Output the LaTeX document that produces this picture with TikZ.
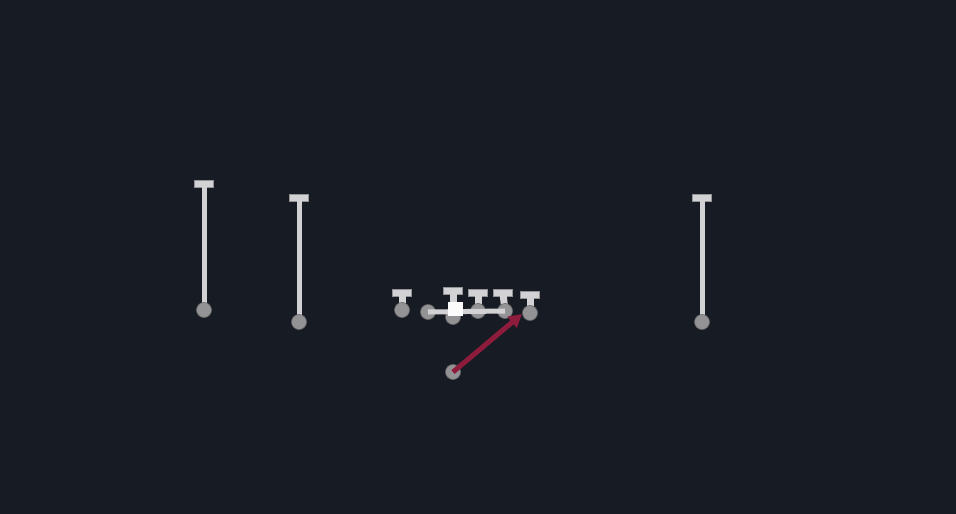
\documentclass[tikz,border=0pt]{standalone}
\usetikzlibrary{arrows.meta}
\definecolor{bg}{HTML}{171B23}
\definecolor{stem}{HTML}{D2D2D5}
\definecolor{dotc}{HTML}{939396}
\definecolor{routered}{HTML}{8C1B3C}
\tikzset{
  player/.style={circle, fill=dotc, draw=dotc!70!black, line width=0.6pt, minimum size=15pt, inner sep=0pt},
  tbar/.style={rectangle, fill=stem, draw=stem!70!black, line width=0.5pt, minimum width=19pt, minimum height=7pt, inner sep=0pt},
  stemline/.style={draw=stem, line width=5pt},
  linestem/.style={draw=stem, line width=7pt},
  centerbox/.style={rectangle, fill=white!92!stem, minimum width=15pt, minimum height=14pt, inner sep=0pt},
  redroute/.style={draw=routered, line width=5pt, -{Triangle[length=13pt,width=14pt]}}
}
\begin{document}
\begin{tikzpicture}[x=1pt,y=-1pt]
\fill[bg] (0,0) rectangle (956,514);
\useasboundingbox (0,0) rectangle (956,514);
% receivers
\node[tbar] (t1) at (204,184) {};
\node[tbar] (t2) at (299,198) {};
\node[tbar] (t3) at (702,198) {};
\draw[stemline] (t1.center) -- (204,310);
\draw[stemline] (t2.center) -- (299,322);
\draw[stemline] (t3.center) -- (702,322);
\node[player] (p1) at (204,310) {};
\node[player] (p2) at (299,322) {};
\node[player] (p3) at (702,322) {};
% line
\node[tbar] (l1) at (402,293) {};
\node[tbar] (l3) at (453,291) {};
\node[tbar] (l4) at (478,293) {};
\node[tbar] (l5) at (503,293) {};
\node[tbar] (l6) at (530,295) {};
\draw[linestem] (l1.center) -- (402,310);
\draw[linestem] (l3.center) -- (453,310);
\draw[linestem] (l4.center) -- (478,311);
\draw[linestem] (l5.center) -- (505,311);
\draw[linestem] (l6.center) -- (530,313);
\node[player] (c1) at (402,310) {};
\node[player] (c2) at (428,312) {};
\node[player] (c3) at (453,317) {};
\node[player] (c4) at (478,311) {};
\node[player] (c5) at (505,311) {};
\node[player] (c6) at (530,313) {};
\draw[stemline] (c2.center) -- (c5.center);
\node[centerbox] (cb) at (455,309) {};
% back
\node[player] (qb) at (453,372) {};
\coordinate (rt) at (522,314);
\draw[redroute] (qb.center) -- (rt);
\end{tikzpicture}
\end{document}
